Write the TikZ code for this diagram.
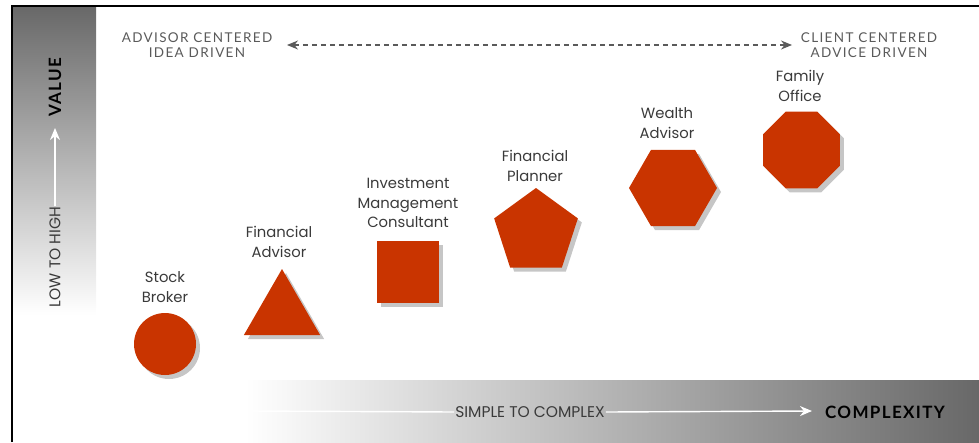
\documentclass[tikz,border=0pt]{standalone}
\usepackage{fontspec}
\setmainfont{Poppins}
\newfontfamily\labfont{Poppins}
\newfontfamily\capfont[LetterSpace=10]{Lato}
\newfontfamily\axbold[LetterSpace=8]{Lato}
\newfontfamily\axlight{Poppins}
\usetikzlibrary{shapes.geometric,shadows,arrows.meta}
\definecolor{brick}{HTML}{C93400}
\definecolor{labgray}{HTML}{3A3A3A}
\definecolor{capgray}{HTML}{5A5A5A}
\definecolor{bardark}{HTML}{686868}
\tikzset{
  shp/.style={fill=brick, draw=none, inner sep=0pt,
    drop shadow={shadow xshift=4pt, shadow yshift=-4pt, opacity=0.45}},
  lab/.style={font=\labfont\fontsize{14.8}{19.5}\selectfont, text=labgray, align=center, inner sep=0pt},
  captext/.style={font=\capfont\fontsize{13.5}{15}\selectfont, text=capgray, align=center, inner sep=0pt},
  axtitle/.style={font=\axbold\fontsize{17}{20}\selectfont\bfseries, text=black, inner sep=0pt},
  axsub/.style={font=\axlight\fontsize{15.5}{17}\selectfont, text=labgray, inner sep=1pt},
  whitearrow/.style={draw=white, line width=1.4pt, -{Stealth[length=12pt,width=10pt]}},
  whiteline/.style={draw=white, line width=1.4pt},
  dasharrow/.style={draw=capgray, line width=1.2pt, dash pattern=on 5pt off 4pt,
    {Stealth[length=11pt,width=9pt]}-{Stealth[length=11pt,width=9pt]}}
}
\begin{document}
\begin{tikzpicture}[x=1pt,y=-1pt]
\useasboundingbox (0,0) rectangle (979,442);
% background bars
\shade[top color=bardark, bottom color=white] (12,6) rectangle (96,315);
\shade[left color=white, right color=bardark] (245,380) rectangle (979,442);
% frame
\draw[line width=1.5pt] (12,442) -- (12,6) -- (979,6);

% top captions
\node[captext] (adv) at (197,45) {ADVISOR CENTERED\\IDEA DRIVEN};
\node[captext] (cli) at (869,45) {CLIENT CENTERED\\ADVICE DRIVEN};
\coordinate (dl) at (287,45);
\coordinate (dr) at (792,45);
\draw[dasharrow] (dl) -- (dr);

% vertical axis
\node[axtitle, rotate=90] (value) at (55,87) {VALUE};
\node[axsub, rotate=90] (lth) at (55,257) {LOW TO HIGH};
\coordinate (vtip) at (55,128);
\draw[whitearrow] (lth.east) -- (vtip);

% horizontal axis
\node[axsub] (stc) at (530,412) {SIMPLE TO COMPLEX};
\node[axtitle] (cplx) at (885,412) {COMPLEXITY};
\coordinate (hstart) at (250,411);
\coordinate (htip) at (812,411);
\draw[whiteline] (hstart) -- (stc.west);
\draw[whitearrow] (stc.east) -- (htip);

% shapes
\node[shp, circle, minimum size=62pt] (sb) at (165,344) {};
\node[shp, regular polygon, regular polygon sides=3, minimum size=88pt] (fa) at (282,313) {};
\node[shp, rectangle, minimum size=62pt] (imc) at (408,272) {};
\node[shp, regular polygon, regular polygon sides=5, minimum size=88pt] (fp) at (536,232) {};
\node[shp, regular polygon, regular polygon sides=6, minimum size=88pt] (wa) at (673,188) {};
\node[shp, regular polygon, regular polygon sides=8, minimum size=83pt] (fo) at (801.5,150) {};

% labels
\node[lab] (sbl) at (165,287) {Stock\\Broker};
\node[lab] (fal) at (279,242) {Financial\\Advisor};
\node[lab] (imcl) at (408,203) {Investment\\Management\\Consultant};
\node[lab] (fpl) at (535,166) {Financial\\Planner};
\node[lab] (wal) at (667,123) {Wealth\\Advisor};
\node[lab] (fol) at (800,86) {Family\\Office};
\end{tikzpicture}
\end{document}
